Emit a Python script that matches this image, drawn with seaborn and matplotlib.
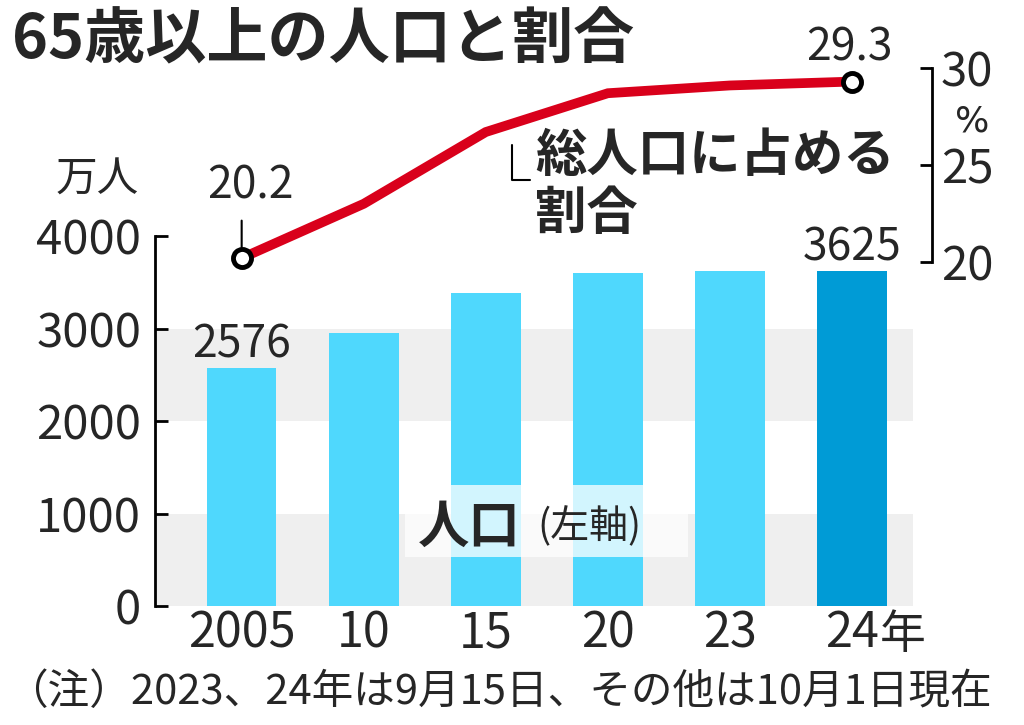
import matplotlib
matplotlib.use("Agg")
import matplotlib.pyplot as plt
import numpy as np
import pandas as pd
import seaborn as sns
from matplotlib.lines import Line2D
from matplotlib.patches import Rectangle

years = ["2005", "10", "15", "20", "23", "24"]
population = [2576, 2948, 3387, 3603, 3623, 3625]   # 万人
share = [20.2, 23.0, 26.7, 28.7, 29.1, 29.3]         # %
bar_colors = ["#4fd8fd"] * 5 + ["#009bd6"]

sns.set_theme(style="white")
plt.rcParams["font.family"] = ["Noto Sans CJK JP", "DejaVu Sans"]

df = pd.DataFrame({"year": years, "pos": np.arange(len(years)),
                   "population": population, "share": share})

W, H = 1024, 725
fig = plt.figure(figsize=(W / 100, H / 100), dpi=100)

left, right = 155 / W, 913 / W
ax = fig.add_axes([left, (H - 606) / H, right - left, 370 / H])
xlim = (-0.71, 5.5)

# gray bands
for lo, hi in [(0, 1000), (2000, 3000)]:
    ax.axhspan(lo, hi, color="#efefef", zorder=0, lw=0)

sns.barplot(data=df, x="year", y="population", hue="year", palette=bar_colors,
            legend=False, width=0.57, saturation=1, linewidth=0, ax=ax, zorder=2)
ax.set_xlim(*xlim)
ax.set_ylim(0, 4000)
ax.set_yticks([0, 1000, 2000, 3000, 4000])
ax.set_xlabel("")
ax.set_ylabel("")
for s in ["top", "right", "bottom"]:
    ax.spines[s].set_visible(False)
ax.spines["left"].set_bounds(0, 4000)
ax.spines["left"].set_linewidth(2)
ax.spines["left"].set_color("black")
ax.set_axisbelow(False)
ax.tick_params(axis="y", left=True, direction="in", length=9, width=2,
               color="black", labelsize=34, pad=10)
ax.tick_params(axis="x", length=0, labelsize=35, pad=2)
ax.set_xticks(range(len(years)))
ax.set_xticklabels(years)
ax.annotate("年", xy=(5, 0), xycoords=("data", "axes fraction"),
            xytext=(20, -3), textcoords="offset points", ha="left", va="top",
            fontsize=33)

# bar value labels
for i in [0, len(years) - 1]:
    ax.annotate(f"{population[i]}", xy=(i, population[i]), xytext=(0, 0),
                textcoords="offset points", ha="center", va="bottom", fontsize=32)

# label box
ax.add_patch(Rectangle((1.34, 530), 2.32, 780, facecolor="white", alpha=0.75,
                       edgecolor="none", zorder=3))
ax.text(1.44, 854, "人口", fontsize=37, fontweight="bold", ha="left", va="center", zorder=4)
ax.text(2.42, 854, "(左軸)", fontsize=28, ha="left", va="center", zorder=4)

# share line axes
ax2 = fig.add_axes([left, (H - 262) / H, right - left, 194 / H])
ax2.patch.set_visible(False)
sns.lineplot(data=df, x="pos", y="share", color="#d9001b", lw=7, ax=ax2,
             clip_on=False, solid_joinstyle="miter")
ends = df.iloc[[0, -1]]
ax2.plot(ends["pos"], ends["share"], "o", ms=13, mfc="white", mec="black",
         mew=3.5, clip_on=False, zorder=5)
ax2.set_xlim(*xlim)
ax2.set_ylim(20, 30)
ax2.set_yticks([20, 25, 30])
ax2.set_xlabel("")
ax2.set_ylabel("")
ax2.set_xticks([])
for s in ["top", "left", "bottom"]:
    ax2.spines[s].set_visible(False)
ax2.spines["right"].set_position(("outward", 14))
ax2.spines["right"].set_linewidth(2)
ax2.spines["right"].set_color("black")
ax2.yaxis.set_ticks_position("right")
ax2.tick_params(axis="y", right=True, direction="in", length=9, width=2,
                color="black", labelsize=34, pad=6)

# leader + value labels for the share line
ax2.annotate("", xy=(0, share[0]), xytext=(0, 27), textcoords="offset points",
             arrowprops=dict(arrowstyle="-", color="black", lw=1.5, shrinkA=0, shrinkB=8))
ax2.annotate(f"{share[0]}", xy=(0, share[0]), xytext=(6, 36), textcoords="offset points",
             ha="center", va="bottom", fontsize=32)
ax2.annotate(f"{share[-1]}", xy=(5, share[-1]), xytext=(-2, 8), textcoords="offset points",
             ha="center", va="bottom", fontsize=32)

fig.text(972 / W, 1 - 122 / H, "%", fontsize=26, family="DejaVu Sans",
         ha="center", va="center")

# titles and notes
fig.text(12 / W, 1 - 10 / H, "65歳以上の人口と割合", fontsize=44, fontweight="bold",
         ha="left", va="top")
fig.text(97 / W, 1 - 180 / H, "万人", fontsize=30, ha="center", va="center")
fig.text(535 / W, 1 - 155 / H, "総人口に占める", fontsize=37, fontweight="bold",
         ha="left", va="center")
fig.text(535 / W, 1 - 213 / H, "割合", fontsize=37, fontweight="bold",
         ha="left", va="center")
fig.add_artist(Line2D([512 / W, 512 / W, 530 / W], [1 - 145 / H, 1 - 180 / H, 1 - 180 / H],
                      color="black", lw=1.5))
fig.text(6 / W, 1 - 693 / H, "（注）2023、24年は9月15日、その他は10月1日現在", fontsize=30,
         ha="left", va="center")

fig.savefig("out.png", dpi=100)
